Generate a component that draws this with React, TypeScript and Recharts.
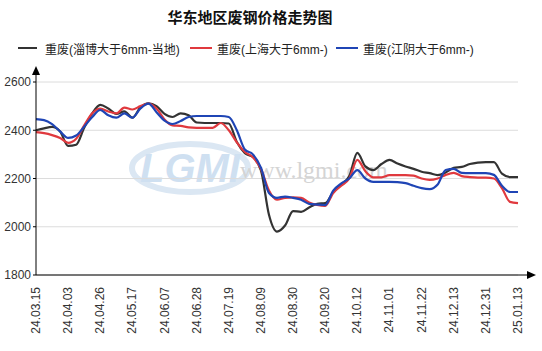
import { LineChart, Line, XAxis, YAxis, CartesianGrid } from "recharts";

const tickLabels = [
  "24.03.15", "24.04.03", "24.04.26", "24.05.17", "24.06.07", "24.06.28", "24.07.19", "24.08.09",
  "24.08.30", "24.09.20", "24.10.12", "24.11.01", "24.11.22", "24.12.13", "24.12.31", "25.01.13",
];

// 4 samples between each labelled date
const zibo = [
  2400, 2408, 2414, 2395, 2335, 2340, 2410, 2470, 2505, 2490, 2468, 2478, 2452, 2495, 2512, 2500,
  2468, 2455, 2470, 2462, 2432, 2430, 2430, 2430, 2428, 2351, 2305, 2289, 2235, 2050, 1980, 2005,
  2065, 2062, 2080, 2095, 2098, 2144, 2175, 2210, 2306, 2250, 2235, 2260, 2277, 2262, 2250, 2240,
  2228, 2222, 2214, 2225, 2244, 2248, 2260, 2266, 2268, 2268, 2220, 2206, 2206,
];
const shanghai = [
  2392, 2388, 2380, 2368, 2348, 2365, 2420, 2470, 2490, 2478, 2470, 2494, 2486, 2500, 2510, 2490,
  2445, 2420, 2418, 2412, 2410, 2410, 2410, 2430, 2400, 2350, 2310, 2288, 2240, 2150, 2112, 2120,
  2122, 2120, 2100, 2090, 2086, 2140, 2170, 2200, 2277, 2230, 2205, 2205, 2214, 2214, 2214, 2212,
  2200, 2194, 2200, 2215, 2223, 2210, 2206, 2204, 2204, 2200, 2160, 2103, 2098,
];
const jiangyin = [
  2446, 2442, 2425, 2395, 2368, 2378, 2415, 2455, 2484, 2462, 2452, 2470, 2452, 2490, 2510, 2475,
  2440, 2426, 2438, 2455, 2459, 2459, 2459, 2459, 2455, 2400, 2320, 2300, 2245, 2140, 2120, 2125,
  2120, 2112, 2095, 2092, 2090, 2150, 2180, 2200, 2235, 2200, 2186, 2186, 2186, 2185, 2181, 2170,
  2160, 2156, 2175, 2235, 2240, 2223, 2222, 2222, 2222, 2215, 2170, 2144, 2144,
];
const yTicks = [1800, 2000, 2200, 2400, 2600];

const STEP = 4;
const data = zibo.map((v, i) => ({ i, zibo: v, shanghai: shanghai[i], jiangyin: jiangyin[i] }));
const xTicks = tickLabels.map((_, k) => k * STEP);

const FONT = "'Liberation Sans', Arial, 'Noto Sans CJK SC', sans-serif";

const series = [
  { key: "zibo", name: "重废(淄博大于6mm-当地)", color: "#333333" },
  { key: "shanghai", name: "重废(上海大于6mm-)", color: "#e0393e" },
  { key: "jiangyin", name: "重废(江阴大于6mm-)", color: "#1f45b5" },
];

function XTick(props: any) {
  const { x, y, payload } = props;
  return (
    <text
      x={0}
      y={0}
      transform={`translate(${x + 4},${y + 4}) rotate(-90)`}
      textAnchor="end"
      fontSize={12}
      fill="#333"
      fontFamily={FONT}
    >
      {tickLabels[payload.value / STEP]}
    </text>
  );
}

function LegendBox() {
  const items = [
    { x: 18, w: 19, tx: 45 },
    { x: 190, w: 22, tx: 217 },
    { x: 336, w: 22, tx: 363 },
  ];
  return (
    <div style={{ position: "absolute", left: 0, top: 40, width: 542, height: 16, fontFamily: FONT, fontSize: 12, color: "#222" }}>
      {series.map((s, k) => (
        <div key={s.key}>
          <div
            style={{
              position: "absolute",
              left: items[k].x,
              top: 7,
              width: items[k].w,
              height: 2,
              background: s.color,
            }}
          />
          <span style={{ position: "absolute", left: items[k].tx, top: 0, whiteSpace: "nowrap" }}>{s.name}</span>
        </div>
      ))}
    </div>
  );
}

export default function App() {
  return (
    <div style={{ position: "absolute", left: 0, top: 0, width: 542, height: 351, background: "#fff", overflow: "hidden" }}>
      {/* watermark */}
      <svg width={542} height={351} style={{ position: "absolute", left: 0, top: 0 }}>
        <ellipse cx={190} cy={168} rx={58} ry={24} fill="none" stroke="#dbe7f3" strokeWidth={6} />
        <text x={140} y={182} fontSize={40} fontWeight="bold" fontStyle="italic" fill="#cfe0f1" fontFamily={FONT}>
          LGMI
        </text>
        <text x={240} y={178} fontSize={24} fill="#d4d4d4" fontFamily="'Liberation Serif', serif">
          www.lgmi.com
        </text>
      </svg>
      <div
        style={{
          position: "absolute",
          left: 0,
          top: 6,
          width: 500,
          textAlign: "center",
          fontFamily: FONT,
          fontWeight: "bold",
          fontSize: 15,
          color: "#111",
        }}
      >
        华东地区废钢价格走势图
      </div>
      <LegendBox />
      <div style={{ position: "absolute", left: 0, top: 0 }}>
        <LineChart width={542} height={351} data={data} margin={{ top: 82, right: 24, bottom: 6, left: 0 }}>
          <CartesianGrid horizontal vertical={false} stroke="#dcdcdc" />
          <XAxis
            dataKey="i"
            type="number"
            domain={[0, 60]}
            ticks={xTicks}
            interval={0}
            height={70}
            axisLine={{ stroke: "#000" }}
            tickLine={false}
            tick={<XTick />}
          />
          <YAxis
            domain={[1800, 2600]}
            ticks={yTicks}
            width={36}
            axisLine={{ stroke: "#000" }}
            tickLine={{ stroke: "#000" }}
            tickSize={3}
            tick={{ fontSize: 12, fill: "#333", fontFamily: FONT }}
          />
          {series.map((s) => (
            <Line
              key={s.key}
              type="monotone"
              dataKey={s.key}
              name={s.name}
              stroke={s.color}
              strokeWidth={2.2}
              dot={false}
              isAnimationActive={false}
            />
          ))}
        </LineChart>
      </div>
      {/* axis arrows */}
      <svg width={542} height={351} style={{ position: "absolute", left: 0, top: 0, pointerEvents: "none" }}>
        <line x1={36} y1={82} x2={36} y2={70} stroke="#000" />
        <polygon points="36,66 32,75 40,75" fill="#000" />
        <line x1={518} y1={275} x2={528} y2={275} stroke="#000" />
        <polygon points="536,275 527,271 527,279" fill="#000" />
      </svg>
    </div>
  );
}
